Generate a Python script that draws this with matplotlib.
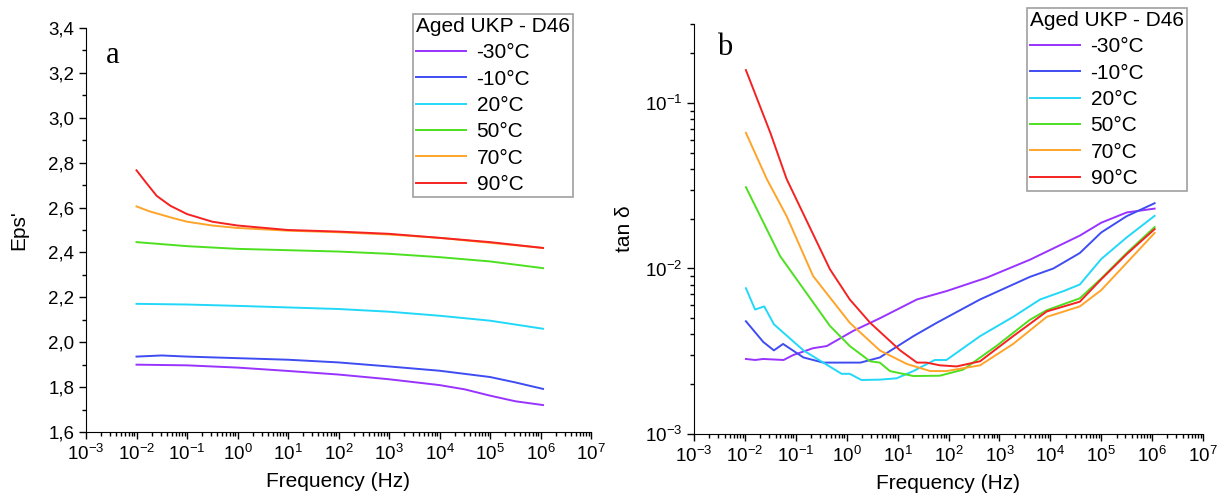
import matplotlib
matplotlib.use('Agg')
import matplotlib.pyplot as plt
import matplotlib.ticker as mticker
import numpy as np

plt.rcParams.update({
    'font.family': ['Liberation Sans', 'DejaVu Sans'],
    'mathtext.fontset': 'custom',
    'mathtext.rm': 'Liberation Sans',
    'mathtext.it': 'Liberation Sans',
    'mathtext.bf': 'Liberation Sans',
    'font.size': 12,
})

temps = ['-30°C', '-10°C', '20°C', '50°C', '70°C', '90°C']
colors = ['#9933ff', '#3f4cf2', '#22d8f8', '#4de021', '#ffa42a', '#f52222']
legend_title = 'Aged UKP - D46'

# ---- panel a: Eps' (log10 frequency / value)
eps_logf = {
    '-30°C': [-2, -1, 0, 1, 2, 3, 4, 4.5, 5, 5.5, 6.05],
    '-10°C': [-2, -1.5, -1, 0, 1, 2, 3, 4, 5, 5.5, 6.05],
    '20°C': [-2, -1, 0, 1, 2, 3, 4, 5, 6.05],
    '50°C': [-2, -1, 0, 2, 3, 4, 5, 6.05],
    '70°C': [-2, -1.74, -1.26, -1, -0.5, 0, 1, 2, 3, 4, 5, 6.05],
    '90°C': [-2, -1.81, -1.6, -1.33, -1, -0.5, 0, 1, 2, 3, 4, 5, 6.05],
}
eps_val = {
    '-30°C': [1.900, 1.897, 1.887, 1.872, 1.856, 1.835, 1.809, 1.790, 1.762, 1.737, 1.720],
    '-10°C': [1.936, 1.941, 1.936, 1.929, 1.922, 1.910, 1.892, 1.873, 1.845, 1.821, 1.792],
    '20°C': [2.171, 2.168, 2.162, 2.155, 2.148, 2.136, 2.118, 2.096, 2.060],
    '50°C': [2.446, 2.428, 2.416, 2.404, 2.394, 2.379, 2.360, 2.330],
    '70°C': [2.605, 2.583, 2.552, 2.537, 2.520, 2.509, 2.497, 2.490, 2.480, 2.465, 2.443, 2.420],
    '90°C': [2.766, 2.711, 2.652, 2.608, 2.571, 2.537, 2.520, 2.500, 2.493, 2.483, 2.465, 2.446, 2.420],
}

# ---- panel b: tan delta
tan_logf = {
    '-30°C': [-1.98, -1.80, -1.64, -1.24, -1.05, -0.66, -0.39, 0.13, 0.65, 1.38, 1.96, 2.75, 3.60, 4.58, 5.0, 5.5, 6.05],
    '-10°C': [-1.98, -1.64, -1.43, -1.25, -0.85, -0.46, 0.27, 0.65, 1.31, 1.77, 2.62, 3.60, 4.06, 4.58, 5.0, 5.5, 6.05],
    '20°C': [-1.98, -1.80, -1.62, -1.43, -0.85, -0.46, -0.10, 0.06, 0.29, 0.65, 0.98, 1.31, 1.73, 1.96, 2.62, 3.27, 3.80, 4.26, 4.58, 5.0, 5.5, 6.05],
    '50°C': [-1.98, -1.31, -0.79, -0.33, 0.06, 0.46, 0.65, 0.85, 1.31, 1.83, 2.29, 2.94, 3.60, 3.93, 4.58, 5.0, 5.5, 6.05],
    '70°C': [-1.98, -1.57, -1.18, -0.66, 0.06, 0.65, 1.18, 1.64, 1.96, 2.62, 3.27, 3.93, 4.58, 5.0, 5.5, 6.05],
    '90°C': [-1.98, -1.5, -1.18, -0.33, 0.06, 0.46, 1.05, 1.38, 1.57, 1.83, 2.16, 2.62, 3.27, 3.93, 4.58, 5.0, 5.5, 6.05],
}
tan_val = {
    '-30°C': [0.00284, 0.0028, 0.00284, 0.0028, 0.0030, 0.0033, 0.0034, 0.0042, 0.0050, 0.0065, 0.0073, 0.0088, 0.0113, 0.0158, 0.0189, 0.0218, 0.0230],
    '-10°C': [0.0048, 0.0036, 0.0032, 0.0035, 0.0029, 0.0027, 0.0027, 0.0029, 0.0039, 0.0047, 0.0065, 0.0089, 0.0100, 0.0124, 0.0165, 0.0207, 0.0248],
    '20°C': [0.0076, 0.00565, 0.0059, 0.0046, 0.0032, 0.0027, 0.00231, 0.00231, 0.00212, 0.00213, 0.00217, 0.0024, 0.0028, 0.0028, 0.0039, 0.0051, 0.0065, 0.0073, 0.0080, 0.0114, 0.0154, 0.0208],
    '50°C': [0.031, 0.0119, 0.0071, 0.0045, 0.0034, 0.00275, 0.0027, 0.0024, 0.00224, 0.00225, 0.00245, 0.0034, 0.0049, 0.0056, 0.0066, 0.0087, 0.0124, 0.0178],
    '70°C': [0.066, 0.0347, 0.0207, 0.0090, 0.0047, 0.0032, 0.00265, 0.0024, 0.0024, 0.0026, 0.0035, 0.0051, 0.0059, 0.0074, 0.0108, 0.0164],
    '90°C': [0.158, 0.066, 0.0347, 0.0099, 0.0065, 0.0047, 0.0032, 0.0027, 0.0027, 0.0026, 0.00256, 0.00275, 0.0039, 0.0055, 0.0063, 0.0086, 0.0122, 0.0173],
}

fig = plt.figure(figsize=(12.22, 4.99), dpi=100)
ax1 = fig.add_axes([86/1222, 1-432/499, 505/1222, 404/499])
ax2 = fig.add_axes([694/1222, 1-434/499, 509/1222, 410/499])

for t, c in zip(temps, colors):
    ax1.plot(10**np.array(eps_logf[t]), eps_val[t], color=c, lw=1.4, label=t)
    ax2.plot(10**np.array(tan_logf[t]), tan_val[t], color=c, lw=1.4, label=t)

for ax in (ax1, ax2):
    ax.set_xscale('log')
    ax.set_xlim(1e-3, 1e7)
    ax.spines['top'].set_visible(False)
    ax.spines['right'].set_visible(False)
    ax.xaxis.set_major_locator(mticker.LogLocator(base=10, numticks=20))
    ax.xaxis.set_minor_locator(mticker.LogLocator(base=10, subs=np.arange(2, 10), numticks=20))
    ax.xaxis.set_minor_formatter(mticker.NullFormatter())
    ax.tick_params(which='major', direction='out', length=5, width=1, labelsize=13.5)
    ax.tick_params(which='minor', direction='out', length=3, width=1)
    ax.set_xlabel('Frequency (Hz)', fontsize=15, labelpad=6)

ax1.set_ylim(1.6, 3.4)
ax1.yaxis.set_major_locator(mticker.MultipleLocator(0.2))
ax1.yaxis.set_minor_locator(mticker.MultipleLocator(0.1))
ax1.yaxis.set_major_formatter(mticker.FuncFormatter(lambda v, p: f'{v:.1f}'.replace('.', ',')))
ax1.set_ylabel("Eps'", fontsize=15, labelpad=14)

ax2.set_yscale('log')
ax2.set_ylim(1e-3, 0.3)
ax2.yaxis.set_minor_locator(mticker.LogLocator(base=10, subs=np.arange(2, 10), numticks=20))
ax2.yaxis.set_minor_formatter(mticker.NullFormatter())
ax2.set_ylabel('tan δ', fontsize=15, labelpad=8)

fig.text(113/1222, 1-63/499, 'a', family='Liberation Serif', fontsize=22, ha='center', va='baseline')
fig.text(725/1222, 1-55/499, 'b', family='Liberation Serif', fontsize=22, ha='center', va='baseline')

for ax, (lx, ly) in ((ax1, (413, 14)), (ax2, (1027, 8))):
    leg = ax.legend(title=legend_title, loc='upper left', bbox_to_anchor=(lx/1222, 1-ly/499),
                    bbox_transform=fig.transFigure, borderaxespad=0, fontsize=15,
                    title_fontsize=15, fancybox=False, edgecolor='#888888',
                    handlelength=2.4, handletextpad=0.5, labelspacing=0.35,
                    borderpad=0.15, alignment='left')
    leg.get_frame().set_linewidth(1.2)

plt.savefig('out.png', dpi=100)
plt.close()
